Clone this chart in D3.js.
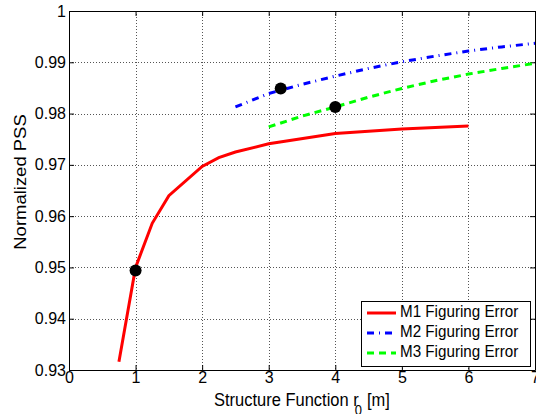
<!DOCTYPE html>
<html>
<head>
<meta charset="utf-8">
<script src="https://cdn.jsdelivr.net/npm/d3@7"></script>
<style>
  body { margin: 0; background: #fff; }
  text { font-family: "Liberation Sans", Arial, sans-serif; fill: #000; }
</style>
</head>
<body>
<svg id="chart" width="536" height="414"></svg>
<script>
// ---- data ----
var xTicks = [0, 1, 2, 3, 4, 5, 6, 7];
var yTicks = [0.93, 0.94, 0.95, 0.96, 0.97, 0.98, 0.99, 1];
var yTickLabels = ["0.93", "0.94", "0.95", "0.96", "0.97", "0.98", "0.99", "1"];

var m1R0 = [0.75, 1.0, 1.25, 1.5, 2.0, 2.25, 2.5, 3.0, 4.0, 5.0, 6.0];
var m1Pss = [0.9316, 0.9500, 0.9586, 0.9640, 0.9697, 0.9714, 0.9725, 0.9741, 0.9761, 0.9770, 0.9776];

var m2R0 = [2.5, 3.0, 3.5, 4.0, 4.5, 5.0, 5.5, 6.0, 6.5, 7.0];
var m2Pss = [0.9813, 0.9839, 0.9857, 0.9873, 0.9888, 0.9901, 0.9912, 0.9922, 0.9930, 0.9937];

var m3R0 = [3.0, 3.5, 4.0, 4.5, 5.0, 5.5, 6.0, 6.5, 7.0];
var m3Pss = [0.9774, 0.9795, 0.9813, 0.9832, 0.9849, 0.9864, 0.9877, 0.9888, 0.9898];

var markR0 = [1.0, 3.18, 4.0];
var markPss = [0.9494, 0.9849, 0.9813];

var seriesNames = ["M1 Figuring Error", "M2 Figuring Error", "M3 Figuring Error"];
var seriesColors = ["#ff0000", "#0000ff", "#00ff00"];
var seriesDash = [null, "7,5,1,5", "7,5"];

// ---- layout ----
var svg = d3.select("#chart");
var padL = 69, padR = 535, padT = 11, padB = 370;

var x = d3.scaleLinear().domain([0, 7]).range([padL, padR]);
var y = d3.scaleLinear().domain([0.93, 1]).range([padB, padT]);

// grid
var grid = svg.append("g").attr("stroke", "#555").attr("stroke-width", 1)
    .attr("stroke-dasharray", "1,2").attr("shape-rendering", "crispEdges");
grid.selectAll(".gx").data(xTicks.slice(1, -1)).enter().append("line")
    .attr("x1", function(d) { return Math.round(x(d)) + 0.5; })
    .attr("x2", function(d) { return Math.round(x(d)) + 0.5; })
    .attr("y1", padT).attr("y2", padB);
grid.selectAll(".gy").data(yTicks.slice(1, -1)).enter().append("line")
    .attr("y1", function(d) { return Math.round(y(d)) + 0.5; })
    .attr("y2", function(d) { return Math.round(y(d)) + 0.5; })
    .attr("x1", padL).attr("x2", padR);

// axes with inward ticks (matlab style, all four sides)
var fmt = function(d) { return yTickLabels[yTicks.indexOf(d)]; };
var xAxis = svg.append("g").attr("transform", "translate(0," + padB + ")")
    .call(d3.axisBottom(x).tickValues(xTicks).tickFormat(d3.format("d"))
        .tickSizeInner(-5).tickSizeOuter(0).tickPadding(2));
var yAxis = svg.append("g").attr("transform", "translate(" + padL + ",0)")
    .call(d3.axisLeft(y).tickValues(yTicks).tickFormat(fmt)
        .tickSizeInner(-5).tickSizeOuter(0).tickPadding(3));
var xTop = svg.append("g").attr("transform", "translate(0," + padT + ")")
    .call(d3.axisTop(x).tickValues(xTicks).tickSizeInner(-5).tickSizeOuter(0).tickFormat(""));
var yRight = svg.append("g").attr("transform", "translate(" + padR + ",0)")
    .call(d3.axisRight(y).tickValues(yTicks).tickSizeInner(-5).tickSizeOuter(0).tickFormat(""));

[xAxis, yAxis, xTop, yRight].forEach(function(a) {
    a.select(".domain").attr("stroke", "#000");
    a.selectAll(".tick line").attr("stroke", "#000");
    a.selectAll("text").attr("font-family", "Liberation Sans, Arial, sans-serif")
        .attr("font-size", 16).attr("fill", "#000");
});

// series
var line = d3.line()
    .x(function(d) { return x(d[0]); })
    .y(function(d) { return y(d[1]); });

var series = [d3.zip(m1R0, m1Pss), d3.zip(m2R0, m2Pss), d3.zip(m3R0, m3Pss)];
svg.append("clipPath").attr("id", "plotclip").append("rect")
    .attr("x", padL).attr("y", padT).attr("width", padR - padL).attr("height", padB - padT);

svg.append("g").attr("clip-path", "url(#plotclip)")
  .selectAll("path").data(series).enter().append("path")
    .attr("d", line)
    .attr("fill", "none")
    .attr("stroke", function(d, i) { return seriesColors[i]; })
    .attr("stroke-width", 3)
    .attr("stroke-dasharray", function(d, i) { return seriesDash[i]; });

// black markers
svg.append("g").selectAll("circle").data(d3.zip(markR0, markPss)).enter().append("circle")
    .attr("cx", function(d) { return x(d[0]); })
    .attr("cy", function(d) { return y(d[1]); })
    .attr("r", 6)
    .attr("fill", "#000");

// legend
var lg = svg.append("g");
lg.append("rect").attr("x", 361.5).attr("y", 301.5).attr("width", 169).attr("height", 65)
    .attr("fill", "#fff").attr("stroke", "#000").attr("stroke-width", 1);
var rows = lg.selectAll(".row").data(seriesNames).enter().append("g")
    .attr("transform", function(d, i) { return "translate(0," + (313 + i * 20) + ")"; });
rows.append("line").attr("x1", 367).attr("x2", 396).attr("y1", 0).attr("y2", 0)
    .attr("stroke", function(d, i) { return seriesColors[i]; })
    .attr("stroke-width", 3)
    .attr("stroke-dasharray", function(d, i) { return seriesDash[i]; });
rows.append("text").attr("font-size", 15.2)
    .attr("transform", "translate(400,4) scale(1,1.07)")
    .text(function(d) { return d; });

// axis titles (the picture's text is a bit stretched vertically)
var xl = svg.append("text").attr("font-size", 16.5)
    .attr("transform", "translate(214,406) scale(1,1.12)");
xl.append("tspan").text("Structure Function r");
xl.append("tspan").attr("dx", -4).attr("dy", 8).attr("font-size", 13).text("0");
xl.append("tspan").attr("dx", 5).attr("dy", -8).text("[m]");

svg.append("text")
    .attr("transform", "translate(26,182) rotate(-90) scale(1.12,1)")
    .attr("text-anchor", "middle")
    .attr("font-size", 16.5)
    .text("Normalized PSS");
</script>
</body>
</html>
